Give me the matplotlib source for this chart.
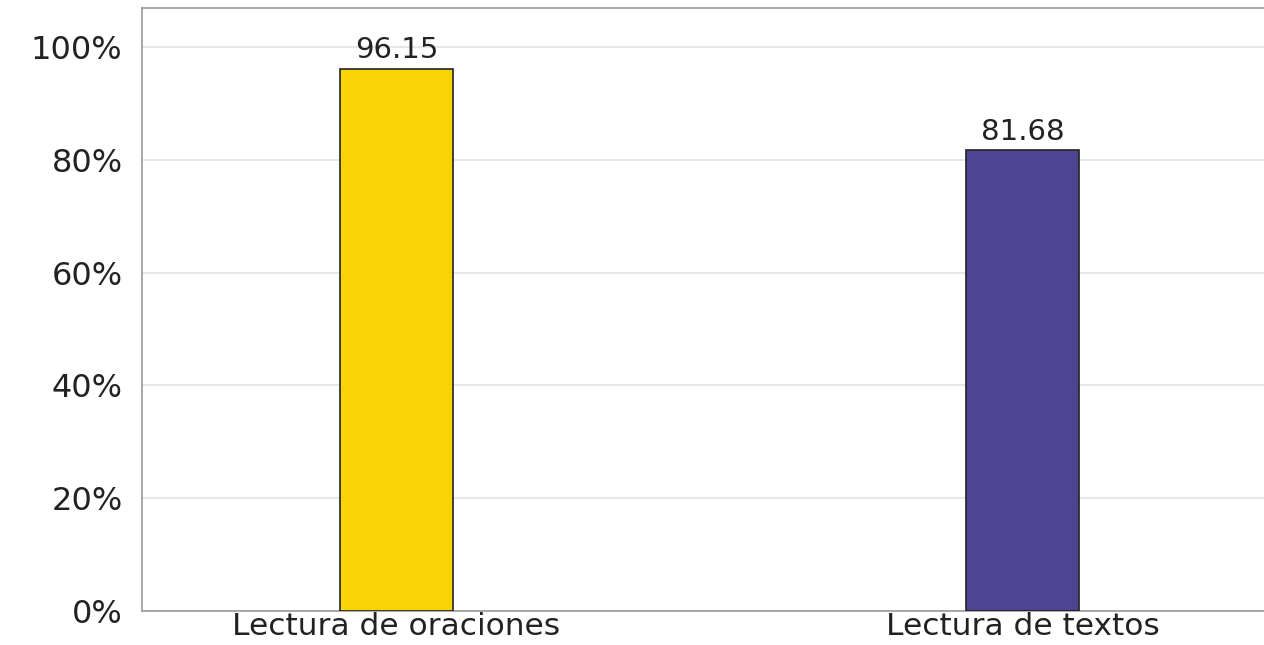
import matplotlib
matplotlib.use("Agg")
import matplotlib.pyplot as plt
from matplotlib.ticker import FuncFormatter

categories = ["Lectura de oraciones", "Lectura de textos"]
values = [96.15, 81.68]
colors = ["#F7D308", "#4E4592"]
yticks = [0, 20, 40, 60, 80, 100]

plt.rcParams['font.family'] = ['DejaVu Sans']

fig = plt.figure(figsize=(12.64, 6.45), dpi=100)
ax = fig.add_axes([142/1264, 34/645, 1 - 142/1264, (611-8)/645])

x = list(range(len(categories)))
bars = ax.bar(x, values, width=0.18, color=colors, edgecolor="#222222", linewidth=1.2, zorder=3)
for xi, v in zip(x, values):
    ax.text(xi, v + 0.8, f"{v:.2f}", ha="center", va="bottom", fontsize=21, color="#222222")

ax.set_xlim(-0.4065, 1.386)
ax.set_ylim(0, 106.9)
ax.set_yticks(yticks)
ax.yaxis.set_major_formatter(FuncFormatter(lambda v, p: f"{v:.0f}%"))
ax.set_xticks(x)
ax.set_xticklabels(categories)
ax.tick_params(axis="y", length=0, pad=14, labelsize=23, labelcolor="#222222")
ax.tick_params(axis="x", length=0, pad=1, labelsize=22.5, labelcolor="#222222")
ax.grid(axis="y", color="#e3e3e3", linewidth=1.2, zorder=0)
for s in ["left", "bottom", "top"]:
    ax.spines[s].set_color("#999999")
    ax.spines[s].set_linewidth(1.2)
ax.spines["right"].set_visible(False)

fig.savefig("out.png", dpi=100)
